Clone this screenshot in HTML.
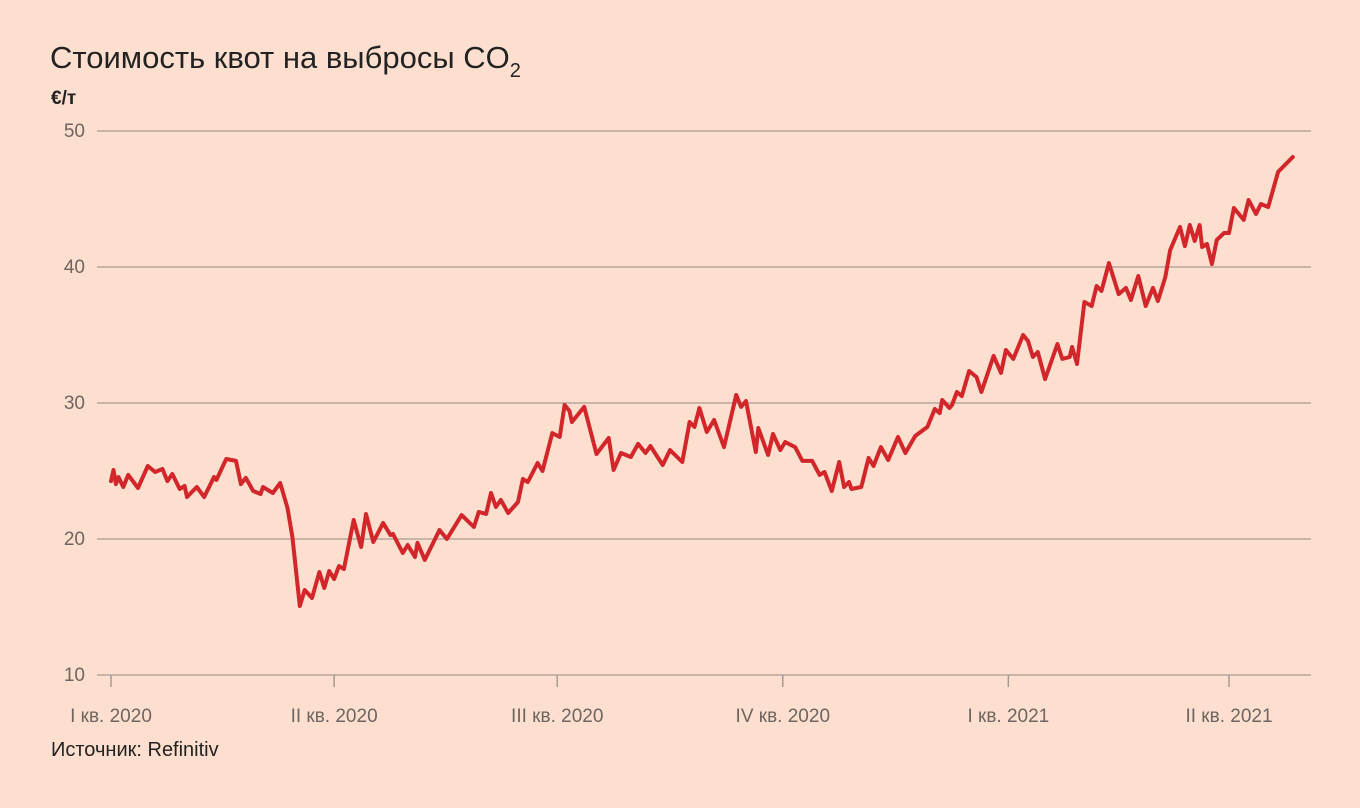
<!DOCTYPE html>
<html><head><meta charset="utf-8">
<style>
html,body{margin:0;padding:0;background:#fddfcf;}
svg{display:block;font-family:"Liberation Sans",sans-serif;}
</style></head>
<body>
<svg id="chart" width="1360" height="808" viewBox="0 0 1360 808">
<rect x="0" y="0" width="1360" height="808" fill="#fddfcf"/>
<text x="50" y="68" font-size="31" fill="#222">Стоимость квот на выбросы CO<tspan font-size="20" dy="9">2</tspan></text>
<text x="51" y="104" font-size="19" font-weight="bold" fill="#222">€/т</text>
<g id="grid"></g>
<g id="xaxis"></g>
<path id="line" fill="none" stroke="#d2262b" stroke-width="4" stroke-linejoin="round" stroke-linecap="round"/>
<text x="51" y="756" font-size="20" fill="#222">Источник: Refinitiv</text>
</svg>
<script>
const days = [0,1,2,3,5,7,11,15,18,21,23,25,28,30,31,35,38,42,43,47,51,53,55,58,61,62,66,69,72,74,77,79,82,85,87,89,91,93,95,99,102,104,107,111,114,115,119,121,124,125,128,134,137,143,148,150,153,155,157,159,162,166,168,170,174,176,180,183,185,187,188,193,198,203,205,208,212,215,218,220,225,228,233,236,238,240,243,246,250,255,257,259,263,264,268,270,273,275,279,282,286,289,291,294,297,299,301,302,306,309,311,314,317,321,324,328,333,336,338,339,342,343,345,347,350,353,355,360,363,365,368,372,374,376,378,381,386,388,391,392,394,397,400,402,404,407,411,414,416,419,422,425,427,430,432,436,438,440,442,444,445,447,449,451,454,456,458,462,464,467,469,472,476,482];
const prices = [24.26,25.07,24.04,24.56,23.82,24.71,23.75,25.37,24.93,25.15,24.26,24.78,23.68,23.9,23.09,23.82,23.09,24.56,24.34,25.88,25.74,24.04,24.49,23.53,23.31,23.82,23.38,24.12,22.28,20.15,15.07,16.25,15.66,17.57,16.4,17.65,17.06,18.01,17.79,21.4,19.41,21.84,19.78,21.18,20.29,20.37,18.97,19.56,18.68,19.71,18.46,20.66,20.0,21.76,20.88,21.99,21.84,23.38,22.35,22.87,21.91,22.72,24.41,24.19,25.59,25.0,27.79,27.5,29.85,29.41,28.6,29.71,26.25,27.43,25.07,26.32,26.03,26.99,26.32,26.84,25.44,26.54,25.66,28.6,28.24,29.63,27.87,28.75,26.76,30.59,29.71,30.15,26.4,28.16,26.18,27.72,26.54,27.13,26.76,25.74,25.74,24.71,24.93,23.53,25.66,23.82,24.19,23.68,23.82,25.96,25.37,26.76,25.81,27.5,26.32,27.57,28.24,29.56,29.26,30.22,29.63,29.85,30.81,30.51,32.35,31.91,30.81,33.46,32.21,33.9,33.24,35.0,34.56,33.38,33.75,31.76,34.34,33.24,33.38,34.12,32.87,37.43,37.13,38.6,38.24,40.29,38.01,38.46,37.57,39.34,37.13,38.46,37.5,39.26,41.25,42.94,41.54,43.09,41.91,43.09,41.47,41.69,40.22,41.99,42.5,42.5,44.34,43.46,44.93,43.9,44.63,44.41,46.99,48.09];
const yTicks = [10,20,30,40,50];
const xTickDays = [0,91,182,274,366,456];
const xTickLabels = ["I кв. 2020","II кв. 2020","III кв. 2020","IV кв. 2020","I кв. 2021","II кв. 2021"];

const NS = "http://www.w3.org/2000/svg";
const xS = d => 111 + d * 2.4518;
const yS = v => 675 - (v - 10) * 13.6;

const grid = document.getElementById('grid');
yTicks.forEach(t => {
  const l = document.createElementNS(NS, 'line');
  
  
  l.setAttribute('x1', 97); l.setAttribute('x2', 1311);
  l.setAttribute('y1', yS(t)); l.setAttribute('y2', yS(t));
  l.setAttribute('stroke', '#a89a92'); l.setAttribute('stroke-width', 1.2);
  grid.appendChild(l);
  const tx = document.createElementNS(NS, 'text');
  
  
  tx.setAttribute('x', 85); tx.setAttribute('y', yS(t) + 6);
  tx.setAttribute('text-anchor', 'end'); tx.setAttribute('font-size', 19);
  tx.setAttribute('fill', '#6e6560');
  tx.textContent = t;
  grid.appendChild(tx);
});

const xa = document.getElementById('xaxis');
xTickDays.forEach((d, i) => {
  const l = document.createElementNS(NS, 'line');
  
  
  l.setAttribute('x1', xS(d)); l.setAttribute('x2', xS(d));
  l.setAttribute('y1', 675); l.setAttribute('y2', 687);
  l.setAttribute('stroke', '#a89a92'); l.setAttribute('stroke-width', 1.5);
  xa.appendChild(l);
  const tx = document.createElementNS(NS, 'text');
  
  
  tx.setAttribute('x', xS(d)); tx.setAttribute('y', 722);
  tx.setAttribute('text-anchor', 'middle'); tx.setAttribute('font-size', 19);
  tx.setAttribute('fill', '#6e6560');
  tx.textContent = xTickLabels[i];
  xa.appendChild(tx);
});

let dstr = '';
days.forEach((d, i) => { dstr += (i ? 'L' : 'M') + xS(d).toFixed(1) + ',' + yS(prices[i]).toFixed(1); });
document.getElementById('line').setAttribute('d', dstr);
</script>
</body></html>
